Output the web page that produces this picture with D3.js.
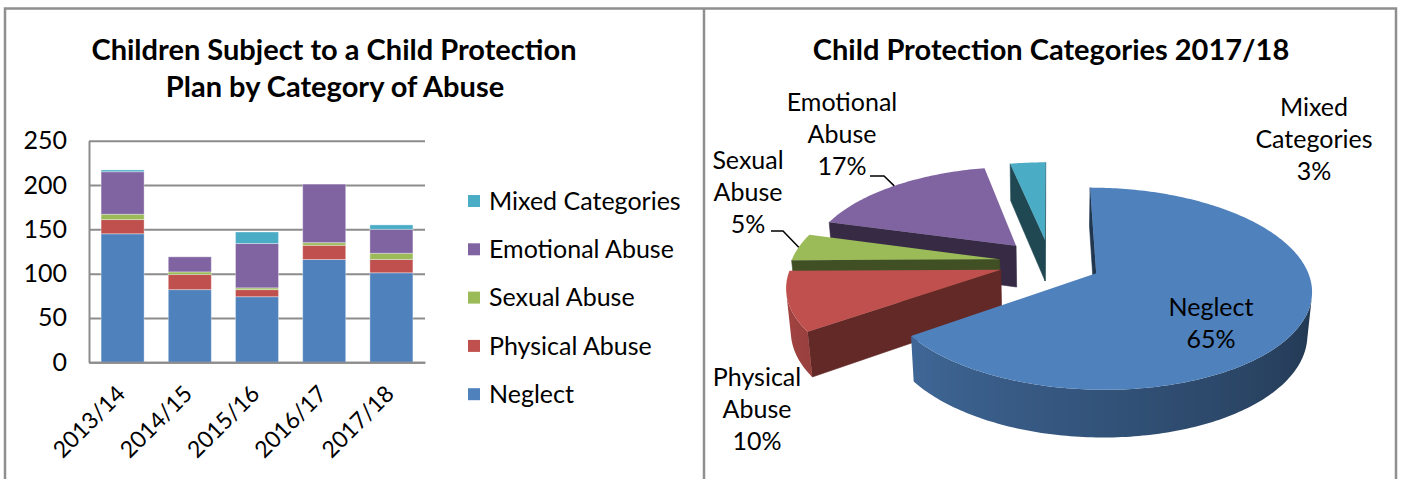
<!DOCTYPE html>
<html>
<head>
<meta charset="utf-8">
<script src="https://cdn.jsdelivr.net/npm/d3@7"></script>
<style>
  body { margin: 0; background: #fff; }
  text { font-family: Lato, "Open Sans", sans-serif; fill: #000; }
</style>
</head>
<body>
<div id="chart"></div>
<script>
/* DATA */
const years = ["2013/14", "2014/15", "2015/16", "2016/17", "2017/18"];
const categories = ["Neglect", "Physical Abuse", "Sexual Abuse", "Emotional Abuse", "Mixed Categories"];
const neglect   = [145, 82, 74, 116, 101];
const physical  = [16, 17, 8, 16, 15];
const sexual    = [6, 3, 2, 3, 7];
const emotional = [48, 17, 50, 66, 27];
const mixed     = [2, 0, 13, 0, 5];
const yTicks = [0, 50, 100, 150, 200, 250];
const pieYear = "2017/18";
const colors = ["#4F81BD", "#C0504D", "#9BBB59", "#8064A2", "#4BACC6"];

const width = 1401, height = 479;

const svg = d3.select("#chart")
  .append("svg")
  .attr("width", width)
  .attr("height", height);
const defs = svg.append("defs");

// panel frames
svg.append("path")
  .attr("d", `M5,${height} V8.5 H1396 V${height} M704,8.5 V${height}`)
  .attr("fill", "none")
  .attr("stroke", "#8f8f8f")
  .attr("stroke-width", 2.5);

/*************/
/* BAR CHART */
/*************/
const table = years.map((y, i) => ({
  year: y,
  "Neglect": neglect[i],
  "Physical Abuse": physical[i],
  "Sexual Abuse": sexual[i],
  "Emotional Abuse": emotional[i],
  "Mixed Categories": mixed[i]
}));

const colorScale = d3.scaleOrdinal().domain(categories).range(colors);

const xScale = d3.scaleBand()
  .domain(years)
  .range([89, 425])
  .paddingInner(0.36)
  .paddingOuter(0.18);

const yScale = d3.scaleLinear()
  .domain([0, 250])
  .range([362.3, 140.7]);

// title
svg.append("text")
  .attr("x", 334).attr("y", 60)
  .attr("text-anchor", "middle")
  .style("font-size", "29px").style("font-weight", "bold")
  .text("Children Subject to a Child Protection");
svg.append("text")
  .attr("x", 335).attr("y", 97)
  .attr("text-anchor", "middle")
  .style("font-size", "29px").style("font-weight", "bold")
  .text("Plan by Category of Abuse");

// y axis + gridlines
const yAxis = svg.append("g")
  .attr("transform", "translate(89,0)")
  .call(d3.axisLeft(yScale).tickValues(yTicks).tickSizeInner(-336).tickSizeOuter(0).tickPadding(22));
yAxis.selectAll("line").attr("stroke", "#8c8c8c").attr("stroke-width", 2);
yAxis.select(".domain").attr("stroke", "#8c8c8c").attr("stroke-width", 2);
yAxis.selectAll("text").style("font-size", "25px").style("font-family", "Lato, sans-serif");

// stacked bars
const stacked = d3.stack().keys(categories)(table);
svg.append("g")
  .selectAll("g")
  .data(stacked)
  .join("g")
  .attr("fill", d => colorScale(d.key))
  .selectAll("rect")
  .data(d => d)
  .join("rect")
  .attr("x", d => xScale(d.data.year))
  .attr("y", d => yScale(d[1]))
  .attr("width", xScale.bandwidth())
  .attr("height", d => yScale(d[0]) - yScale(d[1]))
  .attr("stroke", "#fff")
  .attr("stroke-opacity", 0.35)
  .attr("stroke-width", 1);

// x axis
const xAxis = svg.append("g")
  .attr("transform", "translate(0,362.3)")
  .call(d3.axisBottom(xScale).tickSize(0).tickPadding(0));
xAxis.select(".domain").attr("stroke", "#8c8c8c").attr("stroke-width", 2);
xAxis.selectAll("text")
  .style("font-size", "23px").style("font-family", "Lato, sans-serif")
  .attr("text-anchor", "end")
  .attr("y", 0).attr("dy", 0)
  .attr("transform", "translate(4,33) rotate(-45)");

// legend
const legend = svg.append("g")
  .selectAll("g")
  .data(categories.slice().reverse())
  .join("g")
  .attr("transform", (d, i) => `translate(468,${201 + i * 48.3})`);
legend.append("rect")
  .attr("x", 0).attr("y", -6)
  .attr("width", 12).attr("height", 12)
  .attr("fill", d => colorScale(d));
legend.append("text")
  .attr("x", 21).attr("dy", "0.35em")
  .style("font-size", "25px")
  .text(d => d);

/*************/
/* 3D PIE    */
/*************/
const pieValues = categories.map(c => table.find(r => r.year === pieYear)[c]);
const pieTotal = d3.sum(pieValues);

svg.append("text")
  .attr("x", 1051).attr("y", 60)
  .attr("text-anchor", "middle")
  .style("font-size", "29px").style("font-weight", "bold")
  .text("Child Protection Categories " + pieYear);

const phi = 28 * Math.PI / 180;
const camD = 6, depthH = 0.22, explode = 0.245;
const pieCx = 1050, pieOy = 304.5, Sx = 205, Sy = 213;
const sinP = Math.sin(phi), cosP = Math.cos(phi);

function project(u, v, z) {
  const yc = v * sinP + z * cosP;
  const d = camD + v * cosP - z * sinP;
  return [pieCx + Sx * u * camD / d, pieOy - Sy * yc * camD / d];
}

const slices = d3.pie().sort(null)(pieValues).map((d, i) => {
  const mid = (d.startAngle + d.endAngle) / 2;
  return Object.assign({}, d, {
    i, mid,
    ox: explode * Math.sin(mid),
    oy: explode * Math.cos(mid)
  });
});

const rim = (s, a, z) => project(s.ox + Math.sin(a), s.oy + Math.cos(a), z);
const apex = (s, z) => project(s.ox, s.oy, z);
const signedArea = pts => {
  let s = 0;
  for (let k = 0; k < pts.length; k++) {
    const p = pts[k], q = pts[(k + 1) % pts.length];
    s += p[0] * q[1] - q[0] * p[1];
  }
  return s;
};
const shade = (c, f) => {
  const r = d3.rgb(c);
  return d3.rgb(r.r * f, r.g * f, r.b * f).formatHex();
};
const sideShade = a => {
  const deg = a * 180 / Math.PI;
  return Math.max(0.36, Math.min(0.92, 0.38 + (deg - 90) / 180 * 0.52));
};
const poly = pts => d3.line()(pts) + "Z";

const pieG = svg.append("g");
slices.slice()
  .sort((a, b) => Math.cos(b.mid) - Math.cos(a.mid))
  .forEach(s => {
    const g = pieG.append("g");
    const base = colors[s.i];
    const n = Math.max(2, Math.ceil((s.endAngle - s.startAngle) / (Math.PI / 180)));
    const ang = k => s.startAngle + (s.endAngle - s.startAngle) * k / n;

    // radial faces
    const radial = [
      { pts: [rim(s, s.startAngle, depthH), apex(s, depthH), apex(s, 0), rim(s, s.startAngle, 0)], f: s.i === 1 ? 0.51 : 0.42 },
      { pts: [apex(s, depthH), rim(s, s.endAngle, depthH), rim(s, s.endAngle, 0), apex(s, 0)], f: 0.42 }
    ];
    radial.filter(fc => signedArea(fc.pts) > 0).forEach(fc => {
      const col = shade(base, fc.f);
      g.append("path").attr("d", poly(fc.pts)).attr("fill", col).attr("stroke", col).attr("stroke-width", 0.6);
    });

    // outer side: contiguous runs of visible steps, one gradient path each
    const vis = d3.range(n).map(k =>
      signedArea([rim(s, ang(k + 1), depthH), rim(s, ang(k), depthH), rim(s, ang(k), 0), rim(s, ang(k + 1), 0)]) > 0);
    let k = 0, run = 0;
    while (k < n) {
      if (!vis[k]) { k++; continue; }
      let e = k;
      while (e < n && vis[e]) e++;
      const ks = d3.range(k, e + 1);
      const topPts = ks.map(j => rim(s, ang(j), depthH));
      const botPts = ks.map(j => rim(s, ang(j), 0)).reverse();
      const xs = topPts.map(p => p[0]);
      const x1 = d3.min(xs), x2 = d3.max(xs);
      const id = `side-${s.i}-${run++}`;
      const grad = defs.append("linearGradient")
        .attr("id", id).attr("gradientUnits", "userSpaceOnUse")
        .attr("x1", x1).attr("x2", x2 > x1 ? x2 : x1 + 1).attr("y1", 0).attr("y2", 0);
      ks.map(j => ({ off: x2 > x1 ? (rim(s, ang(j), depthH)[0] - x1) / (x2 - x1) : 0, col: shade(base, sideShade(ang(j))) }))
        .sort((a, b) => a.off - b.off)
        .forEach(st => grad.append("stop").attr("offset", st.off).attr("stop-color", st.col));
      g.append("path").attr("d", poly(topPts.concat(botPts))).attr("fill", `url(#${id})`);
      k = e;
    }

    // top face
    const top = [apex(s, depthH)].concat(d3.range(n + 1).map(j => rim(s, ang(j), depthH)));
    g.append("path").attr("d", poly(top)).attr("fill", base);
  });

// labels
const pieLabelPos = [
  { x: 1211, y: 307, lines: ["Neglect"] },
  { x: 757, y: 377, lines: ["Physical", "Abuse"] },
  { x: 748, y: 160, lines: ["Sexual", "Abuse"] },
  { x: 842, y: 102, lines: ["Emotional", "Abuse"] },
  { x: 1314, y: 107, lines: ["Mixed", "Categories"] }
];
slices.forEach(s => {
  const L = pieLabelPos[s.i];
  const pct = Math.round(s.value / pieTotal * 100) + "%";
  const t = svg.append("text")
    .attr("text-anchor", "middle")
    .style("font-size", "25px");
  L.lines.concat([pct]).forEach((ln, k) => {
    t.append("tspan").attr("x", L.x).attr("y", L.y + k * 32).attr("dy", "0.35em").text(ln);
  });
});

// leader lines for the two small labels
const leaders = [
  { i: 3, from: [870, 176], elbow: [884, 176] },
  { i: 2, from: [771, 231], elbow: [783, 231] }
];
leaders.forEach(l => {
  const s = slices[l.i];
  const end = rim(s, s.mid, depthH);
  svg.append("path")
    .attr("d", d3.line()([l.from, l.elbow, end]))
    .attr("fill", "none")
    .attr("stroke", "#000")
    .attr("stroke-width", 1.5);
});
</script>
</body>
</html>
